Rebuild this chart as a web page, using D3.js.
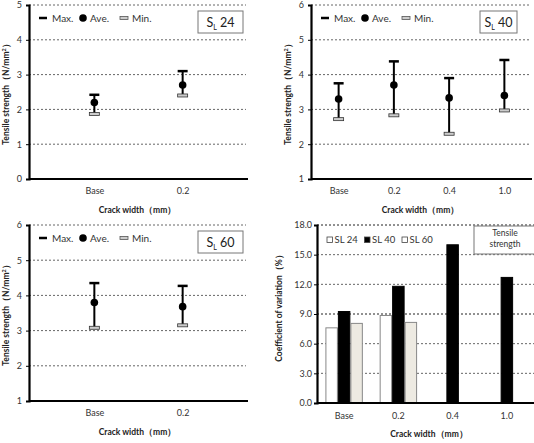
<!DOCTYPE html>
<html><head><meta charset="utf-8">
<script src="https://cdn.jsdelivr.net/npm/d3@7/dist/d3.min.js"></script>
<style>body{margin:0;background:#fff;} text{font-family:Lato,"Open Sans","Liberation Sans",sans-serif;}</style>
</head><body><svg id="c" width="534" height="443"></svg>
<script>
// ---- data ----
const cats24 = ["Base", "0.2"];
const max24 = [2.42, 3.1];
const ave24 = [2.2, 2.7];
const min24 = [1.87, 2.4];

const cats40 = ["Base", "0.2", "0.4", "1.0"];
const max40 = [3.75, 4.38, 3.9, 4.42];
const ave40 = [3.3, 3.7, 3.33, 3.4];
const min40 = [2.72, 2.83, 2.3, 2.97];

const cats60 = ["Base", "0.2"];
const max60 = [4.35, 4.27];
const ave60 = [3.8, 3.68];
const min60 = [3.08, 3.15];

const cvCats = ["Base", "0.2", "0.4", "1.0"];
const cvSeries = ["SL 24", "SL 40", "SL 60"];
const cvSL24 = [7.6, 8.85, null, null];
const cvSL40 = [9.25, 11.8, 16.0, 12.7];
const cvSL60 = [8.05, 8.15, null, null];

const ticks24 = [0,1,2,3,4,5];
const ticks16 = [1,2,3,4,5,6];
const cvTicks = [0,3,6,9,12,15,18];

const svg = d3.select("#c");
const FS = 9;
const TS = 8.5;

function errorPanel(o){
  const g = svg.append("g");
  const x = d3.scalePoint().domain(o.cats).range([o.l, o.r]).padding(o.pad);
  const y = d3.scaleLinear().domain(o.yd).range([o.b, o.t]);
  // grid
  g.selectAll(".gr").data(o.ticks.filter(t=>t!==o.yd[0])).join("line")
    .attr("x1", o.l).attr("x2", o.r-2).attr("y1", d=>y(d)).attr("y2", d=>y(d))
    .attr("stroke", "#666").attr("stroke-width", 1).attr("stroke-dasharray", "2,2");
  // y axis
  const ya = d3.axisLeft(y).tickValues(o.ticks).tickSize(3).tickFormat(d3.format("d"));
  const yg = g.append("g").attr("transform", `translate(${o.l},0)`).call(ya);
  yg.select(".domain").attr("stroke-width", 2.2).attr("stroke", "#000");
  yg.selectAll(".tick line").attr("stroke", "#000");
  yg.selectAll(".tick text").attr("font-size", FS).attr("fill", "#333").attr("x", -7);
  // x axis
  const xa = d3.axisBottom(x).tickSize(0).tickPadding(9);
  const xg = g.append("g").attr("transform", `translate(0,${o.b})`).call(xa);
  xg.select(".domain").attr("stroke-width", 2.2).attr("stroke", "#000").attr("d", `M${o.l},0H${o.r}`);
  xg.selectAll(".tick text").attr("font-size", FS).attr("fill", "#333");
  // titles
  g.append("text").attr("x", (o.l+o.r)/2 - 1).attr("y", o.b+34).attr("text-anchor","middle")
    .attr("font-size", TS).attr("font-weight","bold").attr("fill","#222").text("Crack width（mm）");
  g.append("text").attr("transform", `translate(${o.l-20},${(o.t+o.b)/2})rotate(-90)`)
    .attr("text-anchor","middle").attr("font-size", TS).attr("font-weight","bold").attr("fill","#222")
    .html('Tensile strength（N/mm<tspan dy="-3" font-size="5.5">2</tspan><tspan dy="3">）</tspan>');
  // error bars
  const data = o.cats.map((c,i)=>({c, mx:o.max[i], av:o.ave[i], mn:o.min[i]}));
  const eb = g.selectAll(".eb").data(data).join("g");
  eb.append("line").attr("x1", d=>x(d.c)).attr("x2", d=>x(d.c))
    .attr("y1", d=>y(d.mx)).attr("y2", d=>y(d.mn)).attr("stroke","#000").attr("stroke-width",2);
  eb.append("line").attr("x1", d=>x(d.c)-5).attr("x2", d=>x(d.c)+5)
    .attr("y1", d=>y(d.mx)).attr("y2", d=>y(d.mx)).attr("stroke","#000").attr("stroke-width",2.5);
  eb.append("rect").attr("x", d=>x(d.c)-5).attr("y", d=>y(d.mn)-1.5).attr("width",10).attr("height",3)
    .attr("fill","#ccc").attr("stroke","#333").attr("stroke-width",0.8);
  eb.append("circle").attr("cx", d=>x(d.c)).attr("cy", d=>y(d.av)).attr("r",3.8).attr("fill","#000");
  // legend
  const lx = o.l + 10, ly = o.t + 13;
  g.append("line").attr("x1",lx).attr("x2",lx+8).attr("y1",ly).attr("y2",ly).attr("stroke","#000").attr("stroke-width",2.5);
  g.append("text").attr("x",lx+13).attr("y",ly+3.5).attr("font-size",FS+1).attr("fill","#333").text("Max.");
  g.append("circle").attr("cx",lx+44).attr("cy",ly).attr("r",3.8).attr("fill","#000");
  g.append("text").attr("x",lx+51).attr("y",ly+3.5).attr("font-size",FS+1).attr("fill","#333").text("Ave.");
  g.append("rect").attr("x",lx+81).attr("y",ly-1.5).attr("width",8).attr("height",3)
    .attr("fill","#ccc").attr("stroke","#555").attr("stroke-width",0.8);
  g.append("text").attr("x",lx+93).attr("y",ly+3.5).attr("font-size",FS+1).attr("fill","#333").text("Min.");
  // label box
  g.append("rect").attr("x", o.bx).attr("y", o.t+6).attr("width", o.bw).attr("height", 22)
    .attr("fill","#fff").attr("stroke","#777").attr("stroke-width",1);
  g.append("text").attr("x", o.bx+o.bw/2).attr("y", o.t+22).attr("text-anchor","middle")
    .attr("font-size",12.5).attr("fill","#222")
    .html(`S<tspan dy="3" font-size="7">L</tspan><tspan dy="-3"> ${o.label}</tspan>`);
}

errorPanel({cats:cats24, max:max24, ave:ave24, min:min24, l:29, r:248, t:5, b:179, yd:[0,5], ticks:ticks24, pad:0.74, label:"24", bx:198, bw:45});
errorPanel({cats:cats40, max:max40, ave:ave40, min:min40, l:311, r:532, t:5, b:179, yd:[1,6], ticks:ticks16, pad:0.5, label:"40", bx:480, bw:37});
errorPanel({cats:cats60, max:max60, ave:ave60, min:min60, l:29, r:248, t:225, b:401, yd:[1,6], ticks:ticks16, pad:0.74, label:"60", bx:198, bw:45});

// ---- CV bar panel ----
(function(){
  const l=317, r=534, t=225, b=403;
  const g = svg.append("g");
  const x0 = d3.scaleBand().domain(cvCats).range([l, r]).paddingInner(0.31).paddingOuter(0.155);
  const x1 = d3.scaleBand().domain(cvSeries).range([0, x0.bandwidth()]);
  const y = d3.scaleLinear().domain([0,18]).range([b, t]);
  const fills = {"SL 24":"#ffffff","SL 40":"#000000","SL 60":"#edeae2"};
  const strokes = {"SL 24":"#888","SL 40":"#000","SL 60":"#888"};
  g.selectAll(".gr").data(cvTicks.filter(v=>v>0)).join("line")
    .attr("x1", l).attr("x2", r).attr("y1", d=>y(d)).attr("y2", d=>y(d))
    .attr("stroke", d=> d===9||d===18 ? "#222" : "#666").attr("stroke-width", 1).attr("stroke-dasharray", "2,2");
  const vals = {"SL 24":cvSL24, "SL 40":cvSL40, "SL 60":cvSL60};
  const rows = [];
  cvCats.forEach((c,i)=>cvSeries.forEach(s=>{ if(vals[s][i]!=null) rows.push({c,s,v:vals[s][i]}); }));
  g.selectAll(".bar").data(rows).join("rect")
    .attr("x", d=>x0(d.c)+x1(d.s)+0.5).attr("width", x1.bandwidth()-1)
    .attr("y", d=>y(d.v)).attr("height", d=>b-y(d.v))
    .attr("fill", d=>fills[d.s]).attr("stroke", d=>strokes[d.s]).attr("stroke-width",1);
  const ya = d3.axisLeft(y).tickValues(cvTicks).tickSize(3).tickFormat(d3.format(".1f"));
  const yg = g.append("g").attr("transform", `translate(${l},0)`).call(ya);
  yg.select(".domain").attr("stroke-width", 2.2).attr("stroke", "#000");
  yg.selectAll(".tick line").attr("stroke", "#000");
  yg.selectAll(".tick text").attr("font-size", FS).attr("fill", "#333").attr("x", -5);
  const xg = g.append("g").attr("transform", `translate(0,${b})`).call(d3.axisBottom(x0).tickSize(0).tickPadding(10));
  xg.select(".domain").attr("stroke-width", 2.2).attr("stroke", "#000").attr("d", `M${l},0H${r}`);
  xg.selectAll(".tick text").attr("font-size", FS).attr("fill", "#333");
  g.append("text").attr("x", 429).attr("y", b+34).attr("text-anchor","middle")
    .attr("font-size", TS).attr("font-weight","bold").attr("fill","#222").text("Crack width（mm）");
  g.append("text").attr("transform", `translate(${l-35},${(t+b)/2 - 8})rotate(-90)`)
    .attr("text-anchor","middle").attr("font-size", TS).attr("font-weight","bold").attr("fill","#222")
    .text("Coefficient of variation（%）");
  // legend
  const lg = g.selectAll(".lg").data(cvSeries).join("g")
    .attr("transform",(d,i)=>`translate(${327+i*37.5},${t+15})`);
  lg.append("rect").attr("x",0).attr("y",-3).attr("width",5.5).attr("height",5.5)
    .attr("fill",d=>fills[d]==="#edeae2"?"#fff":fills[d]).attr("stroke","#444").attr("stroke-width",0.8);
  lg.append("text").attr("x",7.5).attr("y",3).attr("font-size",FS+0.5).attr("fill","#333").text(d=>d);
  // title box
  g.append("rect").attr("x",474).attr("y",t+1).attr("width",62).attr("height",28)
    .attr("fill","#fff").attr("stroke","#777").attr("stroke-width",1);
  g.append("text").attr("x",505).attr("y",t+11).attr("text-anchor","middle").attr("font-size",FS-0.5).attr("fill","#333").text("Tensile");
  g.append("text").attr("x",505).attr("y",t+22).attr("text-anchor","middle").attr("font-size",FS-0.5).attr("fill","#333").text("strength");
})();
</script></body></html>
